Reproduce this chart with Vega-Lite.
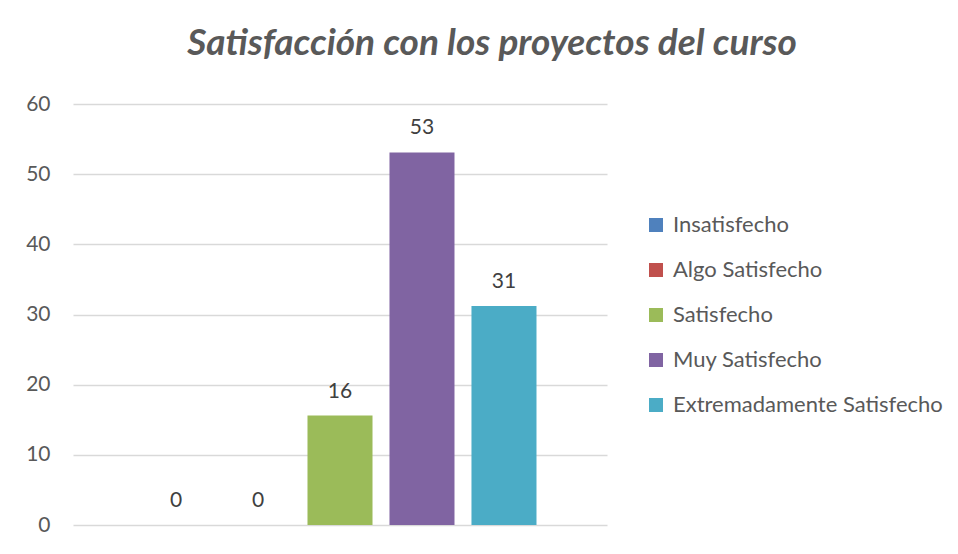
{
  "$schema": "https://vega.github.io/schema/vega-lite/v6.json",
  "autosize": "none",
  "width": 534,
  "height": 421,
  "padding": {"left": 73, "top": 104, "right": 351, "bottom": 29},
  "background": "white",
  "title": {
    "text": "Satisfacción con los proyectos del curso",
    "font": "Lato",
    "fontSize": 37,
    "fontStyle": "italic",
    "fontWeight": "bold",
    "color": "#595959",
    "anchor": "middle",
    "frame": "group",
    "dx": 152,
    "offset": 30
  },
  "data": {
    "values": [
      {"categoria": "Insatisfecho", "valor": 0},
      {"categoria": "Algo Satisfecho", "valor": 0},
      {"categoria": "Satisfecho", "valor": 15.6},
      {"categoria": "Muy Satisfecho", "valor": 53.1},
      {"categoria": "Extremadamente Satisfecho", "valor": 31.2}
    ]
  },
  "encoding": {
    "x": {
      "field": "categoria",
      "type": "nominal",
      "sort": null,
      "axis": null,
      "scale": {"paddingInner": 0.207, "paddingOuter": 0.86}
    },
    "y": {
      "field": "valor",
      "type": "quantitative",
      "scale": {"domain": [0, 60], "nice": false},
      "axis": {
        "values": [0, 10, 20, 30, 40, 50, 60],
        "title": null,
        "domain": false,
        "ticks": false,
        "labelFont": "Lato",
        "labelFontSize": 21,
        "labelColor": "#595959",
        "labelPadding": 23,
        "gridColor": "#d9d9d9",
        "gridWidth": 1.5
      }
    }
  },
  "layer": [
    {
      "mark": {"type": "bar"},
      "encoding": {
        "color": {
          "field": "categoria",
          "type": "nominal",
          "sort": null,
          "scale": {
            "domain": ["Insatisfecho", "Algo Satisfecho", "Satisfecho", "Muy Satisfecho", "Extremadamente Satisfecho"],
            "range": ["#4F81BD", "#C0504D", "#9BBB59", "#8064A2", "#4BACC6"]
          },
          "legend": {
            "title": null,
            "orient": "none",
            "legendX": 572,
            "legendY": 110,
            "padding": 0,
            "symbolType": "square",
            "symbolSize": 196,
            "symbolStrokeWidth": 0,
            "symbolOpacity": 1,
            "labelFont": "Lato",
            "labelFontSize": 22,
            "labelColor": "#595959",
            "labelOffset": 6,
            "rowPadding": 23,
            "labelLimit": 400
          }
        }
      }
    },
    {
      "mark": {"type": "text", "baseline": "alphabetic", "dy": -18, "font": "Lato", "fontSize": 21, "color": "#404040"},
      "encoding": {
        "text": {"field": "valor", "type": "quantitative", "format": ".0f"}
      }
    }
  ],
  "config": {"view": {"stroke": null}}
}
